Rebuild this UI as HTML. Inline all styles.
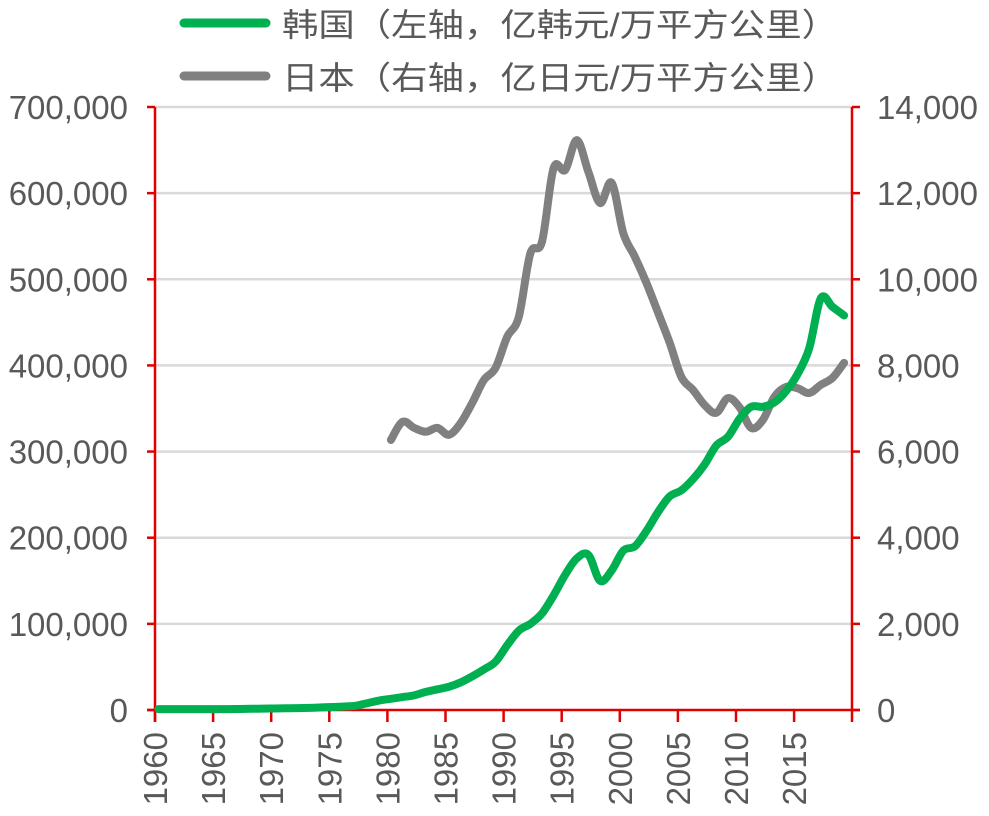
<!DOCTYPE html>
<html><head><meta charset="utf-8">
<style>
html,body{margin:0;padding:0;background:#fff;}
svg{display:block;}
text{font-family:"Liberation Sans","Noto Sans CJK SC",sans-serif;fill:#595959;}
</style></head>
<body>
<svg id="chart" width="989" height="816" viewBox="0 0 989 816" xmlns="http://www.w3.org/2000/svg">
<g id="grid"></g>
<g id="axes"></g>
<g id="series"></g>
<g id="legend">
  <g>
    <line x1="184" y1="23" x2="266" y2="23" stroke="#00b050" stroke-width="9" stroke-linecap="round"/>
    <text x="282" y="36" font-size="32" textLength="556" lengthAdjust="spacingAndGlyphs">韩国（左轴，亿韩元/万平方公里）</text>
  </g>
  <g>
    <line x1="184" y1="76" x2="266" y2="76" stroke="#808080" stroke-width="9" stroke-linecap="round"/>
    <text x="282" y="89" font-size="32" textLength="556" lengthAdjust="spacingAndGlyphs">日本（右轴，亿日元/万平方公里）</text>
  </g>
</g>
</svg>
<script>
const years = [];
for (let y = 1960; y <= 2019; y++) years.push(y);
const koreaValues = [1000,1000,1000,1000,1000,1000,1000,1200,1400,1600,1800,2000,2200,2500,3000,3500,4000,5000,8000,11000,13000,15000,17000,21000,24000,27000,32000,39000,47000,56000,75000,92000,100000,112000,133000,157000,176000,180000,150000,162000,185000,190000,208000,230000,248000,255000,268000,285000,307000,317000,338000,352000,352000,357000,370000,390000,420000,478000,468000,458000];
const japanYears = [1980,1981,1982,1983,1984,1985,1986,1987,1988,1989,1990,1991,1992,1993,1994,1995,1996,1997,1998,1999,2000,2001,2002,2003,2004,2005,2006,2007,2008,2009,2010,2011,2012,2013,2014,2015,2016,2017,2018,2019];
const japanValues = [6270,6690,6550,6460,6550,6390,6660,7130,7660,7940,8660,9120,10600,10870,12580,12540,13230,12490,11770,12240,11070,10520,9910,9220,8520,7730,7430,7080,6900,7240,7030,6550,6730,7270,7500,7470,7360,7550,7710,8060];
const leftTicks = [0,100000,200000,300000,400000,500000,600000,700000];
const leftTickLabels = ["0","100,000","200,000","300,000","400,000","500,000","600,000","700,000"];
const rightTicks = [0,2000,4000,6000,8000,10000,12000,14000];
const rightTickLabels = ["0","2,000","4,000","6,000","8,000","10,000","12,000","14,000"];
const xTickYears = [1960,1965,1970,1975,1980,1985,1990,1995,2000,2005,2010,2015];

const NS = "http://www.w3.org/2000/svg";
const X0 = 155, X1 = 852, Y0 = 710, Y1 = 107, STEP = 11.62;
const xTick = y => X0 + (y - 1960) * STEP;
const xPt = y => X0 + 3.5 + (y - 1960) * STEP;
const yL = v => Y0 - (v / 700000) * (Y0 - Y1);
const yR = v => Y0 - (v / 14000) * (Y0 - Y1);
function mk(tag, attrs, parent) {
  const e = document.createElementNS(NS, tag);
  for (const k in attrs) e.setAttribute(k, attrs[k]);
  parent.appendChild(e);
  return e;
}
const grid = document.getElementById('grid');
const axes = document.getElementById('axes');
const series = document.getElementById('series');
const red = "#e00000";

leftTicks.forEach((v, i) => {
  if (v > 0) {
    const g = mk('line', {x1: X0, x2: X1, y1: yL(v), y2: yL(v), stroke: '#d9d9d9', 'stroke-width': 2.5}, grid);
    
    
  }
  const t = mk('line', {x1: X0 - 8, x2: X0, y1: yL(v), y2: yL(v), stroke: red, 'stroke-width': 2.5}, axes);
  
  
  const lbl = mk('text', {x: X0 - 27, y: yL(v) + 12, 'font-size': 33, 'text-anchor': 'end'}, axes);
  lbl.textContent = leftTickLabels[i];
  
  
});
rightTicks.forEach((v, i) => {
  const t = mk('line', {x1: X1, x2: X1 + 8, y1: yR(v), y2: yR(v), stroke: red, 'stroke-width': 2.5}, axes);
  
  
  const lbl = mk('text', {x: X1 + 25, y: yR(v) + 12, 'font-size': 33}, axes);
  lbl.textContent = rightTickLabels[i];
  
  
});
const la = mk('line', {x1: X0, x2: X0, y1: Y1, y2: Y0 + 12, stroke: red, 'stroke-width': 2.5}, axes);


const ra = mk('line', {x1: X1, x2: X1, y1: Y1, y2: Y0 + 12, stroke: red, 'stroke-width': 2.5}, axes);


const xa = mk('line', {x1: X0 - 8, x2: X1 + 8, y1: Y0, y2: Y0, stroke: red, 'stroke-width': 2.5}, axes);


xTickYears.forEach(yr => {
  const x = xTick(yr);
  const t = mk('line', {x1: x, x2: x, y1: Y0, y2: Y0 + 12, stroke: red, 'stroke-width': 2.5}, axes);
  
  
  const lbl = mk('text', {x: 0, y: 0, 'font-size': 33, 'text-anchor': 'end', transform: `translate(${x + 12},${Y0 + 22}) rotate(-90)`}, axes);
  lbl.textContent = String(yr);
  
  
});

function smoothPath(pts) {
  let d = `M${pts[0][0]},${pts[0][1]}`;
  for (let i = 0; i < pts.length - 1; i++) {
    const p0 = pts[i - 1] || pts[i], p1 = pts[i], p2 = pts[i + 1], p3 = pts[i + 2] || p2;
    const c1x = p1[0] + (p2[0] - p0[0]) / 6, c1y = p1[1] + (p2[1] - p0[1]) / 6;
    const c2x = p2[0] - (p3[0] - p1[0]) / 6, c2y = p2[1] - (p3[1] - p1[1]) / 6;
    d += ` C${c1x},${c1y} ${c2x},${c2y} ${p2[0]},${p2[1]}`;
  }
  return d;
}
const kPts = years.map((y, i) => [xPt(y), yL(koreaValues[i])]);
const jPts = japanYears.map((y, i) => [xPt(y), yR(japanValues[i])]);
const jl = mk('path', {d: smoothPath(jPts), fill: 'none', stroke: '#808080', 'stroke-width': 8, 'stroke-linejoin': 'round', 'stroke-linecap': 'round'}, series);


const kl = mk('path', {d: smoothPath(kPts), fill: 'none', stroke: '#00b050', 'stroke-width': 8, 'stroke-linejoin': 'round', 'stroke-linecap': 'round'}, series);


</script>
</body></html>
